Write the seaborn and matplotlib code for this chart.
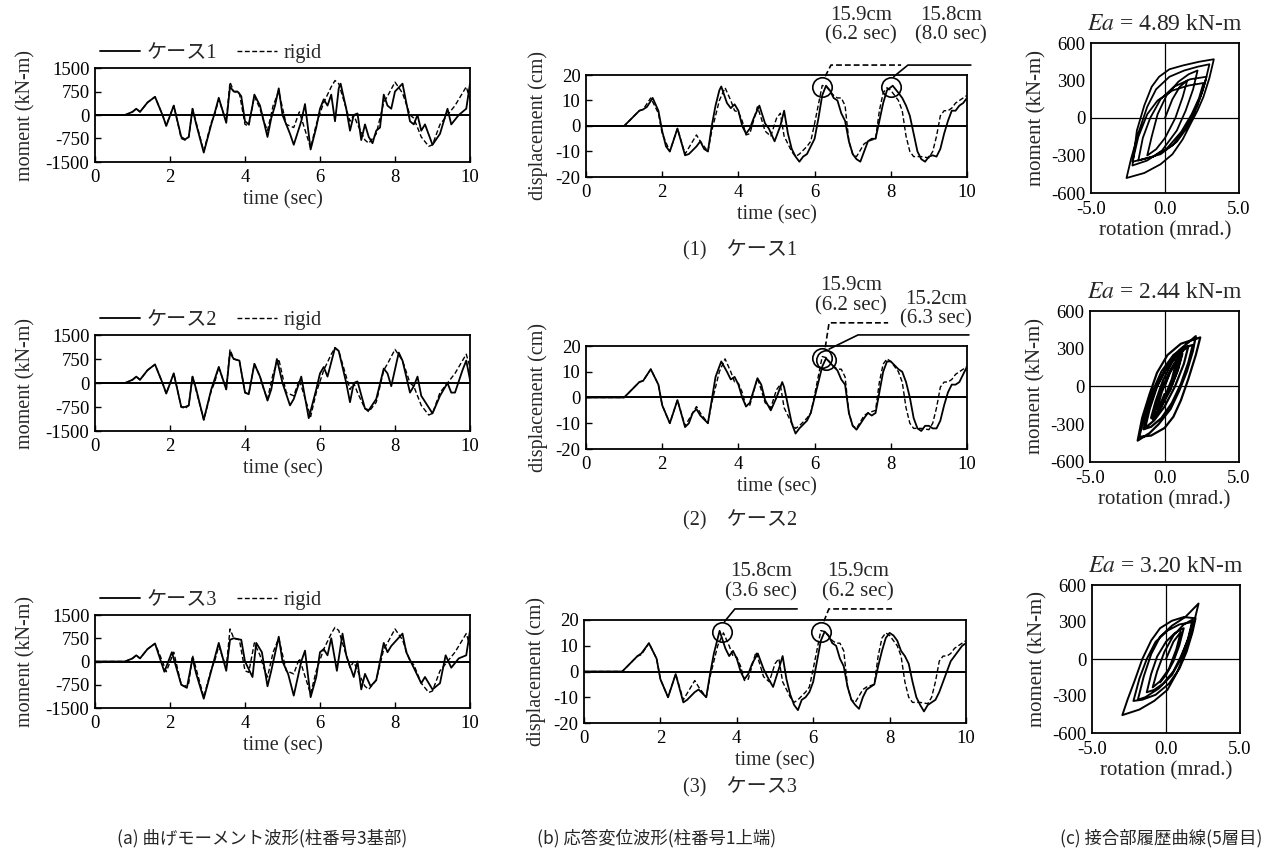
import matplotlib
matplotlib.use('Agg')
import matplotlib.pyplot as plt
import pandas as pd
import seaborn as sns

# ---- data ---------------------------------------------------------------
time_ticks = [0, 2, 4, 6, 8, 10]
moment_ticks = [1500, 750, 0, -750, -1500]
disp_ticks = [20, 10, 0, -10, -20]
rot_ticks = [-5.0, 0.0, 5.0]
hyst_ticks = [600, 300, 0, -300, -600]

case_names = ['ケース1', 'ケース2', 'ケース3']
ea_values = ['4.89', '2.44', '3.20']

# (time sec, moment kN-m)
moment_case1 = [(0, 0), (0.8, 0), (1.0, 100), (1.1, 200), (1.2, 100), (1.4, 400), (1.6, 580), (1.8, 0),
                (1.9, -350), (2.1, 300), (2.3, -700), (2.4, -780), (2.5, -700), (2.6, 200), (2.7, -300),
                (2.9, -1200), (3.1, -300), (3.2, 100), (3.3, 550), (3.5, -250), (3.6, 900), (3.7, 750),
                (3.8, 750), (3.9, 600), (4.0, -200), (4.1, -300), (4.2, 300), (4.25, 650), (4.4, 300),
                (4.6, -700), (4.7, -100), (4.8, 300), (4.9, 850), (5.0, 0), (5.2, -600), (5.3, -950),
                (5.5, -200), (5.6, 350), (5.75, -1100), (5.9, -400), (6.0, 200), (6.1, 500), (6.2, 300),
                (6.3, 650), (6.4, -200), (6.5, 850), (6.55, 1000), (6.7, 200), (6.8, -500), (6.9, 0),
                (7.0, 50), (7.1, -800), (7.2, -300), (7.3, -700), (7.4, -900), (7.5, -500), (7.6, -400),
                (7.7, 650), (7.8, 300), (7.9, 200), (8.0, 750), (8.2, 1000), (8.3, 400), (8.4, -200),
                (8.5, -300), (8.6, 0), (8.7, -500), (8.8, -300), (9.0, -950), (9.2, -600), (9.4, 200),
                (9.5, -300), (9.7, 0), (9.9, 200), (10.0, 1000)]
moment_case2 = [(0, 0), (0.8, 0), (1.0, 100), (1.1, 200), (1.2, 100), (1.4, 400), (1.6, 580), (1.8, 0),
                (1.9, -330), (2.1, 300), (2.3, -750), (2.4, -750), (2.5, -700), (2.6, 200), (2.7, -200),
                (2.9, -1150), (3.1, -200), (3.3, 500), (3.5, -200), (3.6, 950), (3.7, 750), (3.85, 700),
                (4.0, -300), (4.1, -350), (4.25, 600), (4.4, 200), (4.6, -550), (4.7, -200), (4.85, 750),
                (5.0, 0), (5.2, -700), (5.3, -500), (5.5, 200), (5.7, -1100), (5.9, -200), (6.0, 300),
                (6.1, 500), (6.2, 200), (6.4, 1100), (6.5, 1000), (6.7, 0), (6.8, -600), (6.9, 0),
                (7.0, 50), (7.2, -800), (7.3, -850), (7.5, -500), (7.7, 450), (7.8, 300), (7.9, -100),
                (8.1, 950), (8.2, 700), (8.4, -300), (8.5, -100), (8.6, 200), (8.7, -400), (9.0, -950),
                (9.2, -400), (9.4, 0), (9.5, -300), (9.6, -300), (9.8, 400), (9.9, 700), (10.0, 100)]
moment_case3 = [(0, 0), (0.8, 0), (1.0, 100), (1.1, 200), (1.2, 100), (1.4, 400), (1.6, 580), (1.85, -330),
                (2.05, 300), (2.3, -750), (2.45, -850), (2.6, 100), (2.7, -400), (2.9, -1200), (3.1, -300),
                (3.3, 600), (3.5, -300), (3.6, 700), (3.7, 750), (3.9, 700), (4.0, 0), (4.2, -500),
                (4.3, 600), (4.45, 300), (4.6, -800), (4.7, -300), (4.9, 800), (5.0, 0), (5.15, -400),
                (5.3, -1100), (5.5, 0), (5.6, 350), (5.75, -1150), (5.9, -500), (6.0, 300), (6.1, 400),
                (6.2, 200), (6.3, 750), (6.45, -300), (6.6, 900), (6.7, 200), (6.9, -500), (7.0, 0),
                (7.1, -900), (7.2, -400), (7.35, -800), (7.5, -600), (7.7, 600), (7.8, 300), (7.9, 500),
                (8.05, 700), (8.2, 900), (8.3, 300), (8.5, -200), (8.7, -700), (8.8, -500), (9.0, -900),
                (9.2, -700), (9.35, 200), (9.5, -200), (9.7, 100), (9.9, 200), (10.0, 1000)]
moment_rigid = [(0, 0), (0.8, 0), (1.0, 100), (1.1, 200), (1.2, 100), (1.4, 400), (1.6, 580), (1.8, 0),
                (1.9, -330), (2.1, 300), (2.3, -750), (2.4, -800), (2.5, -700), (2.6, 200), (2.7, -250),
                (2.9, -1150), (3.1, -250), (3.2, 50), (3.3, 500), (3.5, -200), (3.6, 1050), (3.7, 750),
                (3.85, 700), (4.0, -300), (4.1, -350), (4.25, 600), (4.4, 200), (4.5, -200), (4.6, -500),
                (4.75, 300), (4.9, 750), (5.1, -300), (5.3, -400), (5.45, 100), (5.75, -1050), (5.9, -300),
                (6.1, 400), (6.3, 900), (6.4, 1100), (6.5, 1000), (6.6, 600), (6.8, -200), (6.9, 0),
                (7.0, -300), (7.2, -800), (7.3, -900), (7.5, -600), (7.6, -100), (7.7, 400), (7.8, 600),
                (8.0, 1050), (8.2, 700), (8.4, 0), (8.5, -100), (8.7, -700), (8.9, -1000), (9.0, -950),
                (9.2, -300), (9.4, 0), (9.6, 300), (9.8, 700), (9.9, 900), (10.0, 500)]

# (time sec, displacement cm)
disp_case1 = [(0, 0), (1.0, 0), (1.2, 3), (1.4, 6), (1.5, 6.5), (1.6, 7.5), (1.75, 11), (1.9, 6), (2.0, -2),
              (2.1, -8), (2.2, -10), (2.4, -1), (2.6, -11.5), (2.7, -11), (2.9, -8), (3.0, -6), (3.1, -9),
              (3.2, -10), (3.3, 0), (3.4, 8), (3.5, 14), (3.55, 15.5), (3.7, 9), (3.8, 7), (3.9, 8.5),
              (4.0, 6), (4.1, 0), (4.2, -3), (4.3, -1), (4.4, 3), (4.55, 8), (4.7, 1), (4.8, -1), (4.95, -6),
              (5.1, 0), (5.2, 6), (5.3, -3), (5.4, -9), (5.5, -12), (5.6, -14), (5.7, -12), (5.8, -11),
              (5.9, -8), (6.0, -5), (6.1, 3), (6.2, 12), (6.3, 15.8), (6.4, 14), (6.5, 11), (6.6, 10),
              (6.7, 5), (6.8, 2), (6.9, -6), (7.0, -11), (7.1, -13), (7.2, -14), (7.3, -10), (7.4, -6),
              (7.5, -5), (7.6, -5), (7.7, 2), (7.8, 9), (7.9, 14), (8.05, 15.8), (8.2, 13), (8.3, 11),
              (8.4, 8), (8.5, 4), (8.6, -3), (8.7, -10), (8.8, -13), (8.9, -14), (9.0, -12), (9.1, -11.5),
              (9.2, -12), (9.3, -9), (9.4, -3), (9.5, 2), (9.6, 6), (9.7, 6), (9.8, 8), (9.9, 9), (10.0, 11)]
disp_case2 = [(0, 0), (1.0, 0), (1.2, 3), (1.4, 6), (1.5, 6.5), (1.7, 11), (1.9, 5), (2.0, -3), (2.2, -10),
              (2.4, -1), (2.6, -11.5), (2.7, -10), (2.8, -6), (2.9, -4.5), (3.0, -7), (3.2, -10), (3.3, -1),
              (3.4, 8), (3.55, 14), (3.7, 10), (3.8, 7), (3.9, 8), (4.0, 5), (4.1, 0), (4.2, -3.5), (4.3, -2),
              (4.5, 7.5), (4.6, 5), (4.7, -1), (4.85, -5), (5.0, 0), (5.15, 6), (5.2, 4), (5.4, -10),
              (5.5, -14), (5.6, -12), (5.8, -9), (5.9, -6), (6.0, 0), (6.2, 12), (6.3, 15.2), (6.5, 12),
              (6.6, 10.5), (6.7, 7), (6.8, 5), (6.9, -6), (7.0, -11), (7.1, -12.5), (7.3, -8), (7.4, -6),
              (7.5, -7), (7.6, -6), (7.7, 2), (7.8, 10), (7.9, 14), (8.0, 14), (8.2, 11), (8.3, 10),
              (8.4, 6), (8.5, 0), (8.6, -8), (8.7, -12), (8.8, -13), (8.9, -11), (9.0, -11), (9.1, -12),
              (9.2, -12), (9.3, -9), (9.4, -3), (9.5, 2), (9.6, 5), (9.7, 5), (9.8, 6), (9.9, 9), (10.0, 12)]
disp_case3 = [(0, 0), (1.0, 0), (1.2, 3), (1.4, 6), (1.5, 7), (1.7, 11), (1.9, 5), (2.0, -3), (2.2, -10),
              (2.4, -1), (2.6, -12), (2.7, -11), (2.9, -8), (3.0, -7), (3.2, -10), (3.3, -1), (3.4, 7),
              (3.55, 15.8), (3.7, 9), (3.8, 6), (3.9, 8), (4.0, 5), (4.1, 0), (4.2, -3), (4.3, -1), (4.4, 3),
              (4.55, 7), (4.7, 1), (4.8, -2), (4.95, -6), (5.1, 1), (5.2, 6), (5.3, -3), (5.4, -9), (5.5, -13),
              (5.6, -15), (5.7, -11), (5.8, -10), (5.9, -8), (6.0, -4), (6.1, 4), (6.2, 12), (6.3, 15.5),
              (6.4, 14), (6.5, 11), (6.6, 10), (6.7, 5), (6.8, 2), (6.9, -6), (7.0, -11), (7.1, -13),
              (7.2, -14.5), (7.3, -10), (7.4, -7), (7.5, -6), (7.6, -5), (7.7, 2), (7.8, 8), (7.9, 13),
              (8.0, 15), (8.1, 14), (8.2, 12), (8.3, 8), (8.4, 6), (8.5, 3), (8.6, -4), (8.7, -10),
              (8.8, -13), (8.9, -15.5), (9.0, -13), (9.1, -12), (9.2, -11), (9.3, -8), (9.4, -4), (9.5, 0),
              (9.6, 4), (9.7, 6), (9.8, 8), (9.9, 10), (10.0, 11)]
disp_rigid = [(0, 0), (1.0, 0), (1.2, 3), (1.4, 6), (1.5, 6.5), (1.7, 11), (1.9, 5), (2.0, -3), (2.2, -10),
              (2.4, -1), (2.6, -11), (2.8, -6), (2.9, -3.5), (3.0, -6), (3.2, -10), (3.3, -2), (3.5, 10),
              (3.65, 15), (3.8, 10), (3.9, 6), (4.0, 5.5), (4.1, 2), (4.2, -3.5), (4.3, -3), (4.5, 7.5),
              (4.6, 3), (4.7, -2), (4.85, -4), (5.0, 3), (5.1, 5), (5.2, -4), (5.4, -10), (5.5, -12),
              (5.6, -11), (5.8, -8), (5.9, -6), (6.0, 1), (6.2, 15.9), (6.3, 15.5), (6.5, 12), (6.6, 11),
              (6.7, 11), (6.8, 8), (6.9, -6), (7.0, -11), (7.1, -12), (7.3, -7), (7.4, -6), (7.6, -5),
              (7.7, 6), (7.8, 13), (7.9, 15), (8.0, 14), (8.2, 10), (8.3, 6), (8.4, -4), (8.5, -10),
              (8.6, -12), (8.8, -12), (9.0, -12.5), (9.1, -10), (9.2, -4), (9.3, 4), (9.4, 6), (9.5, 6),
              (9.6, 7), (9.7, 9), (9.8, 10), (10.0, 12)]

# peak markers: (time sec, displacement cm, which curve)
peaks_case1 = [(6.2, 15.9, 'rigid'), (8.0, 15.8, 'case')]
peaks_case2 = [(6.2, 15.9, 'rigid'), (6.3, 15.2, 'case')]
peaks_case3 = [(3.6, 15.8, 'case'), (6.2, 15.9, 'rigid')]

# (rotation mrad, moment kN-m) traced along the loops
hyst_case1 = [(0.0, 0), (0.5, 150), (1.0, 250), (1.5, 300),
              (1.2, 170), (0.7, 0), (0.0, -160), (-0.6, -250), (-1.2, -300),
              (-0.9, -150), (-0.5, 30), (0.1, 180), (0.9, 290), (1.6, 350), (2.2, 380),
              (1.9, 230), (1.4, 60), (0.8, -100), (-0.2, -260), (-1.2, -340), (-2.2, -380),
              (-1.9, -100), (-1.4, 100), (-0.9, 250), (-0.4, 330), (0.3, 390), (1.2, 420), (2.3, 450), (3.3, 470),
              (3.0, 320), (2.6, 170), (2.2, 60), (1.8, -30), (1.2, -170), (0.5, -290), (-0.3, -370),
              (-1.4, -440), (-2.6, -480),
              (-2.3, -330), (-1.8, -120), (-1.2, 90), (-0.6, 230), (0.3, 330), (1.3, 380), (2.2, 410), (3.0, 430),
              (2.7, 280), (2.2, 100), (1.6, -60), (0.8, -190), (-0.3, -290), (-1.8, -340),
              (-1.5, -160), (-1.0, 0), (-0.3, 150), (0.6, 250), (1.7, 310), (2.8, 330),
              (2.5, 200), (2.0, 60), (1.4, -80), (0.5, -220), (-0.8, -310), (-2.2, -350),
              (-1.8, -150), (-1.2, 30), (-0.5, 140), (0.5, 220), (1.6, 260), (2.6, 280),
              (2.3, 160), (1.8, 30), (1.1, -110), (0.3, -220), (0.0, -260)]
hyst_case2 = [(0.0, 0), (0.4, 120), (0.8, 200),
              (0.5, 60), (0.0, -90), (-0.5, -180),
              (-0.2, -50), (0.3, 100), (0.8, 200), (1.2, 260),
              (0.9, 130), (0.4, -20), (-0.3, -170), (-0.9, -250),
              (-0.6, -120), (-0.1, 50), (0.5, 190), (1.1, 270), (1.6, 320),
              (1.3, 180), (0.7, 0), (0.0, -160), (-0.7, -270), (-1.3, -330),
              (-1.0, -180), (-0.5, 0), (0.2, 170), (1.0, 290), (2.1, 400),
              (1.9, 280), (1.5, 120), (1.0, -30), (0.4, -180), (-0.4, -300), (-1.0, -370), (-1.8, -430),
              (-1.5, -250), (-1.0, -60), (-0.5, 110), (0.2, 250), (1.1, 340), (2.4, 390),
              (2.1, 250), (1.6, 60), (1.1, -110), (0.6, -240), (0.0, -330), (-0.9, -390), (-1.7, -400),
              (-1.3, -220), (-0.8, -40), (-0.2, 120), (0.6, 250), (1.3, 310), (1.9, 330),
              (1.6, 190), (1.1, 20), (0.5, -130), (-0.2, -250), (-0.9, -320), (-1.4, -340),
              (-1.1, -190), (-0.6, -20), (0.0, 120), (0.6, 220), (1.2, 280),
              (0.9, 140), (0.4, -20), (-0.2, -160), (-0.8, -260),
              (-0.5, -120), (0.0, 30), (0.6, 170), (1.0, 230),
              (0.6, 60), (0.1, -80), (-0.4, -180), (0.0, -60)]
hyst_case3 = [(0.0, 0), (0.5, 140), (1.0, 220),
              (0.7, 80), (0.2, -80), (-0.4, -180), (-0.9, -230),
              (-0.6, -100), (-0.1, 60), (0.5, 190), (1.2, 280), (1.8, 320),
              (1.5, 170), (1.0, 0), (0.4, -130), (-0.5, -240), (-1.4, -310), (-1.9, -330),
              (-1.5, -140), (-1.0, 40), (-0.4, 180), (0.4, 270), (1.3, 340), (2.2, 450),
              (2.0, 350), (1.7, 200), (1.2, 20), (0.7, -120), (0.1, -250), (-0.8, -340), (-1.8, -410), (-2.95, -455),
              (-2.6, -330), (-2.1, -170), (-1.6, 0), (-1.0, 150), (-0.4, 250), (0.4, 310), (1.2, 340), (2.0, 330),
              (1.8, 220), (1.4, 60), (0.9, -80), (0.2, -200), (-0.7, -290), (-1.6, -330), (-2.2, -340),
              (-1.8, -160), (-1.3, 0), (-0.7, 140), (0.1, 230), (0.9, 280), (1.8, 300),
              (1.5, 160), (1.0, 20), (0.5, -100), (-0.2, -200), (-0.8, -250), (-1.3, -270),
              (-1.0, -120), (-0.6, 20), (0.0, 140), (0.6, 210), (1.2, 250),
              (0.9, 110), (0.5, -20), (0.0, -130), (-0.4, -190)]

# ---- layout ----------------------------------------------------------------
W, H = 1267, 855
SERIF = ['Liberation Serif', 'Noto Sans CJK JP', 'DejaVu Sans']
GOTHIC = ['Noto Sans CJK JP', 'DejaVu Sans']
DASH = (0, (3.5, 1.8))

sns.set_theme(style='ticks')
plt.rcParams['font.family'] = SERIF
plt.rcParams['mathtext.fontset'] = 'stix'
plt.rcParams['axes.unicode_minus'] = False
plt.rcParams['axes.linewidth'] = 1.3
plt.rcParams['xtick.direction'] = 'in'
plt.rcParams['ytick.direction'] = 'in'

fig = plt.figure(figsize=(W / 100, H / 100), dpi=100)
fig.patch.set_facecolor('white')


def add_axes_px(x0, y0, x1, y1):
    return fig.add_axes([x0 / W, 1 - y1 / H, (x1 - x0) / W, (y1 - y0) / H])


def to_df(pairs, cols):
    return pd.DataFrame(pairs, columns=cols)


def style_axes(ax):
    ax.set_facecolor('white')
    for s in ax.spines.values():
        s.set_color('black')
        s.set_linewidth(1.3)
    ax.tick_params(colors='black', labelsize=13.5, length=4, width=1.0)
    ax.tick_params(axis='x', pad=5)
    ax.tick_params(axis='y', pad=4)


def moment_panel(box, case_pairs, name):
    ax = add_axes_px(*box)
    df_c = to_df(case_pairs, ['t', 'v'])
    df_r = to_df(moment_rigid, ['t', 'v'])
    sns.lineplot(data=df_c, x='t', y='v', ax=ax, color='black', lw=1.3, label=name,
                 estimator=None, sort=False)
    sns.lineplot(data=df_r, x='t', y='v', ax=ax, color='black', lw=1.0, linestyle=DASH,
                 label='rigid', estimator=None, sort=False)
    ax.axhline(0, color='black', lw=1.4)
    ax.set_xlim(0, 10)
    ax.set_ylim(-1500, 1500)
    ax.set_xticks(time_ticks)
    ax.set_yticks(moment_ticks)
    ax.set_xlabel('time (sec)', fontsize=14.5, labelpad=3)
    ax.set_ylabel('moment (kN-m)', fontsize=14.5, labelpad=7)
    style_axes(ax)
    ax.legend(loc='lower left', bbox_to_anchor=(0.0, 1.0), ncol=2, frameon=False, fontsize=14.5,
              handlelength=2.0, handletextpad=0.3, columnspacing=1.0, borderpad=0.1, borderaxespad=0.15)
    return ax


def disp_panel(box, case_pairs, peaks, marks):
    ax = add_axes_px(*box)
    df_c = to_df(case_pairs, ['t', 'v'])
    df_r = to_df(disp_rigid, ['t', 'v'])
    sns.lineplot(data=df_c, x='t', y='v', ax=ax, color='black', lw=1.3, estimator=None, sort=False)
    sns.lineplot(data=df_r, x='t', y='v', ax=ax, color='black', lw=1.0, linestyle=DASH,
                 estimator=None, sort=False)
    ax.axhline(0, color='black', lw=1.4)
    ax.set_xlim(0, 10)
    ax.set_ylim(-20, 20)
    ax.set_xticks(time_ticks)
    ax.set_yticks(disp_ticks)
    ax.set_xlabel('time (sec)', fontsize=14.5, labelpad=3)
    ax.set_ylabel('displacement (cm)', fontsize=14.5, labelpad=5)
    style_axes(ax)
    # circled peaks with leader lines and labels
    for (t, v, kind), (tx, ty, lx0, lx1, ly) in zip(peaks, marks):
        ls = '-' if kind == 'case' else DASH
        ax.plot([t], [v - 0.5], marker='o', ms=14, mfc='none', mec='black', mew=1.2,
                clip_on=False, zorder=5)
        ax.plot([t + 0.08, lx0, lx1], [v + 3.6, ly, ly], color='black', lw=1.2,
                linestyle=ls, clip_on=False, zorder=5)
        ax.text(tx, ty, f'{v}cm\n({t} sec)', ha='center', va='center', fontsize=15,
                linespacing=1.05, clip_on=False)
    return ax


def hyst_panel(box, pairs, ea, lw):
    ax = add_axes_px(*box)
    df = to_df(pairs, ['r', 'm'])
    ax.axhline(0, color='black', lw=0.9)
    ax.axvline(0, color='black', lw=0.9)
    sns.lineplot(data=df, x='r', y='m', ax=ax, color='black', lw=lw, estimator=None, sort=False)
    ax.set_xlim(-5, 5)
    ax.set_ylim(-600, 600)
    ax.set_xticks(rot_ticks)
    ax.set_xticklabels([f'{v:.1f}' for v in rot_ticks])
    ax.set_yticks(hyst_ticks)
    ax.set_xlabel('rotation (mrad.)', fontsize=15, labelpad=2)
    ax.set_ylabel('moment (kN-m)', fontsize=15, labelpad=3)
    style_axes(ax)
    ax.tick_params(length=0)
    ax.tick_params(axis='x', pad=6)
    ax.tick_params(axis='y', pad=4)
    ax.set_title(r'$\mathit{Ea}$ = ' + ea + ' kN-m', fontsize=17, pad=9)
    return ax


# column (a): bending moment waveforms
a_boxes = [(95, 68, 470, 162), (95, 335, 470, 431), (95, 615, 470, 708)]
for box, pairs, name in zip(a_boxes, [moment_case1, moment_case2, moment_case3], case_names):
    moment_panel(box, pairs, name)

# column (b): displacement waveforms
b_boxes = [(586, 75, 967, 177), (586, 346, 967, 449), (584, 620, 966, 723)]
b_marks = [
    [(7.22, 39.6, 6.43, 8.27, 23.9), (9.58, 39.6, 8.45, 10.1, 23.9)],
    [(6.96, 39.6, 6.38, 7.93, 29.0), (9.19, 34.2, 7.14, 10.05, 24.3)],
    [(4.63, 34.8, 3.95, 5.58, 24.3), (7.17, 34.8, 6.41, 8.14, 24.3)],
]
for box, pairs, peaks, marks in zip(b_boxes, [disp_case1, disp_case2, disp_case3],
                                    [peaks_case1, peaks_case2, peaks_case3], b_marks):
    disp_panel(box, pairs, peaks, marks)

# column (c): joint hysteresis loops
c_boxes = [(1091, 43, 1239, 193), (1090, 311, 1239, 462), (1092, 585, 1240, 733)]
for box, pairs, ea, lw in zip(c_boxes, [hyst_case1, hyst_case2, hyst_case3], ea_values, [1.3, 1.6, 1.4]):
    hyst_panel(box, pairs, ea, lw)

# row captions
for y, i in zip([250, 520, 787], range(3)):
    fig.text(740 / W, 1 - y / H, f'({i + 1})\u3000{case_names[i]}', ha='center', va='center',
             fontsize=14.5, family=SERIF)

# column captions
fig.text(117 / W, 1 - 838 / H, '(a) 曲げモーメント波形(柱番号3基部)', ha='left', va='center',
         fontsize=12.5, family=GOTHIC)
fig.text(537 / W, 1 - 838 / H, '(b) 応答変位波形(柱番号1上端)', ha='left', va='center',
         fontsize=12.5, family=GOTHIC)
fig.text(1060 / W, 1 - 838 / H, '(c) 接合部履歴曲線(5層目)', ha='left', va='center',
         fontsize=12.5, family=GOTHIC)

fig.savefig('out.png', dpi=100, facecolor='white')
